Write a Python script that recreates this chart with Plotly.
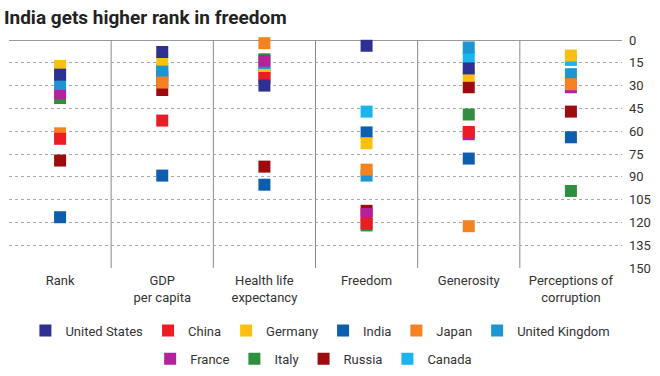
import plotly.graph_objects as go

categories = ["Rank", "GDP<br>per capita", "Health life<br>expectancy", "Freedom",
              "Generosity", "Perceptions of<br>corruption"]
y_ticks = [0, 15, 30, 45, 60, 75, 90, 105, 120, 135, 150]

countries = ["United States", "China", "Germany", "India", "Japan",
             "United Kingdom", "France", "Italy", "Russia", "Canada"]
colors = ["#2e3192", "#ed1c24", "#fdc010", "#0d5eaf", "#f58220",
          "#1b96d2", "#b5219a", "#2f8f3e", "#9e0b0f", "#19b5ec"]

united_states = [22.8, 7.9, 30.0, 3.8, 18.7, None]
china = [65.0, 53.0, 25.0, 120.7, 60.5, None]
germany = [17.1, 12.9, 23.0, 67.9, 23.5, 10.2]
india = [116.6, 89.2, 95.2, 60.8, 78.0, 64.0]
japan = [61.4, 28.0, 2.1, 85.3, 122.5, 29.1]
united_kingdom = [28.9, 20.4, 21.5, 89.2, 4.9, 22.5]
france = [35.1, 24.0, 13.8, 114.5, 62.0, 31.1]
italy = [38.2, 26.0, 12.7, 122.0, 49.0, 99.3]
russia = [79.3, 32.9, 83.3, 112.4, 31.1, 47.1]
canada = [21.0, 19.0, 21.0, 47.1, 11.8, 13.1]

series = [united_states, china, germany, india, japan,
          united_kingdom, france, italy, russia, canada]

FONT = "Roboto"
fig = go.Figure()

# draw in reverse so the first legend entry sits on top
for i in reversed(range(len(countries))):
    fig.add_trace(go.Scatter(
        x=categories, y=series[i], name=countries[i], mode="markers",
        marker=dict(symbol="square", size=12, color=colors[i], line=dict(width=0)),
        cliponaxis=False, legendrank=i,
        legend="legend" if i < 6 else "legend2",
    ))

# category separators
for k in range(len(categories) - 1):
    fig.add_shape(type="line", xref="x", yref="y", x0=k + 0.5, x1=k + 0.5,
                  y0=0, y1=150, line=dict(color="#8a8a8a", width=1), layer="below")
# top solid line
fig.add_shape(type="line", xref="paper", yref="y", x0=0, x1=1, y0=0, y1=0,
              line=dict(color="#9a9a9a", width=2), layer="below")

fig.update_layout(
    width=660, height=376,
    margin=dict(l=9, r=38, t=40, b=108, autoexpand=False),
    paper_bgcolor="white", plot_bgcolor="white",
    title=dict(text="<b>India gets higher rank in freedom</b>",
               font=dict(family=FONT, size=19, color="#222"),
               xref="container", yref="container", x=0.006, xanchor="left",
               y=0.955, yanchor="middle"),
    font=dict(family=FONT, size=13, color="#333"),
    xaxis=dict(type="category", categoryorder="array", categoryarray=categories,
               range=[-0.5, len(categories) - 0.5], showgrid=False,
               showline=False, zeroline=False, ticks="", ticklabelstandoff=3,
               tickfont=dict(family=FONT, size=13, color="#333"), fixedrange=True),
    yaxis=dict(range=[150, 0], tickvals=y_ticks, side="right", showgrid=True,
               gridcolor="#a8a8a8", griddash="dot", gridwidth=1, zeroline=False,
               showline=False, ticks="", ticklabelstandoff=6,
               tickfont=dict(family=FONT, size=13, color="#333"), fixedrange=True),
    showlegend=True,
    legend=dict(orientation="h", x=0.508, xanchor="center", y=-0.209, yanchor="top",
                font=dict(family=FONT, size=13, color="#333"), itemclick=False,
                traceorder="normal", bgcolor="rgba(0,0,0,0)"),
    legend2=dict(orientation="h", x=0.497, xanchor="center", y=-0.332, yanchor="top",
                 font=dict(family=FONT, size=13, color="#333"), itemclick=False,
                 traceorder="normal", bgcolor="rgba(0,0,0,0)"),
)

fig.write_html("out.html", config={"displayModeBar": False},
               post_script="document.body.style.margin='0';document.body.style.overflow='hidden';")
